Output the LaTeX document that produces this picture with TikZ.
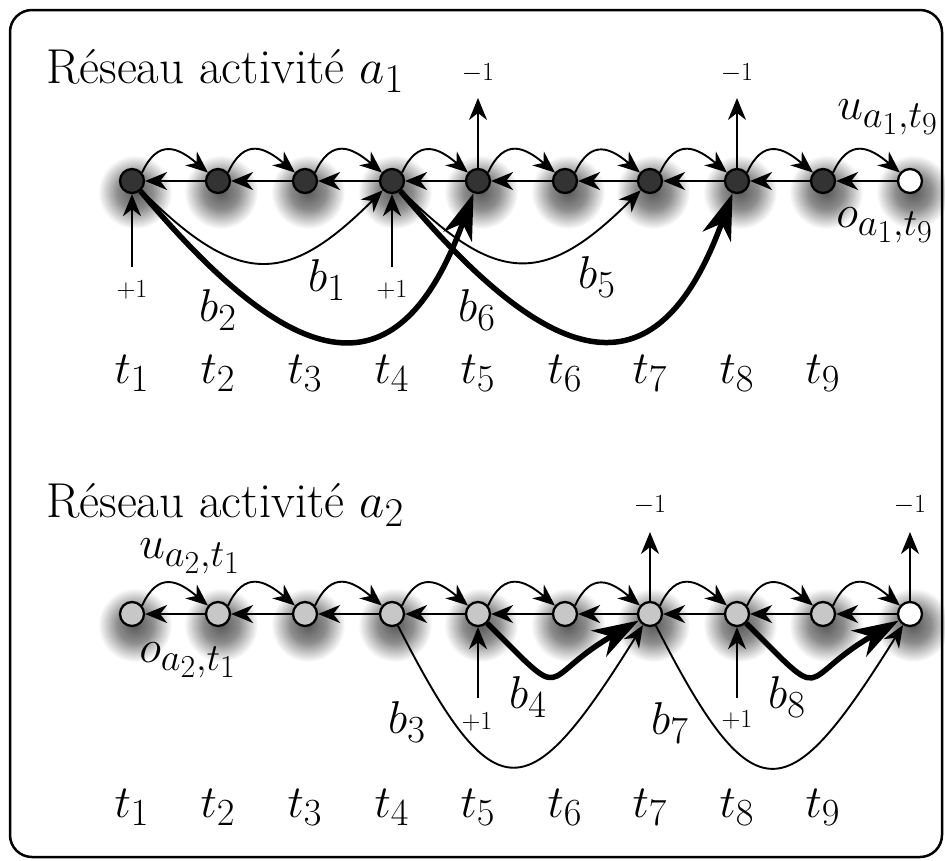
\documentclass[tikz,border=0pt]{standalone}
\usetikzlibrary{arrows.meta}
\newcommand\bigtxt[1]{\scalebox{1.85}{\Huge #1}}
\newcommand\ttltxt[1]{\scalebox{1.97}{\Huge #1}}
\newcommand\unittxt[1]{\scalebox{1.05}{\Huge #1}}
\pgfdeclareradialshading{nshadow}{\pgfpoint{0bp}{0bp}}{color(0bp)=(black!65); color(12bp)=(black!45); color(25bp)=(white); color(50bp)=(white)}
\begin{document}
\begin{tikzpicture}[x=1pt,y=1pt,
  nd/.style={circle,draw,line width=2.3pt,minimum size=24pt,inner sep=0pt},
  darknd/.style={nd,fill=black!80},
  lightnd/.style={nd,fill=black!22},
  endnd/.style={nd,fill=white},
  arr/.style={line width=1.9pt,-{Stealth[length=22pt,width=18pt,inset=7pt]}},
  big/.style={line width=5.5pt,-{Stealth[length=46pt,width=30pt,inset=14pt]}},
  hop/.style={arr,out=65,in=140,looseness=1.5},
  lbl/.style={inner sep=0pt},
  smalllbl/.style={inner sep=0pt},
  ttl/.style={inner sep=0pt,anchor=base west},
  shadow/.style={shading=nshadow}
]
\useasboundingbox (0,0) rectangle (945,-860);
% shadows
\foreach \x in {132,218,305,392,478,565,650,737,823,910}{
  \shade[shadow] (\x+3,-192) circle (37);
  \shade[shadow] (\x+3,-625) circle (37);
}
\draw[line width=2.5pt,rounded corners=22pt] (10,-10) rectangle (942,-857);

% titles
\node[ttl] (title1) at (46,-83) {\ttltxt{Réseau activité $a_1$}};
\node[ttl] (title2) at (46,-517) {\ttltxt{Réseau activité $a_2$}};

% top network nodes
\node[darknd] (a1) at (132,-181) {};
\node[darknd] (a2) at (218,-181) {};
\node[darknd] (a3) at (305,-181) {};
\node[darknd] (a4) at (392,-181) {};
\node[darknd] (a5) at (478,-181) {};
\node[darknd] (a6) at (565,-181) {};
\node[darknd] (a7) at (650,-181) {};
\node[darknd] (a8) at (737,-181) {};
\node[darknd] (a9) at (823,-181) {};
\node[endnd] (a10) at (910,-181) {};

% bottom network nodes
\node[lightnd] (c1) at (132,-614) {};
\node[lightnd] (c2) at (218,-614) {};
\node[lightnd] (c3) at (305,-614) {};
\node[lightnd] (c4) at (392,-614) {};
\node[lightnd] (c5) at (478,-614) {};
\node[lightnd] (c6) at (565,-614) {};
\node[lightnd] (c7) at (650,-614) {};
\node[lightnd] (c8) at (737,-614) {};
\node[lightnd] (c9) at (823,-614) {};
\node[endnd] (c10) at (910,-614) {};

% hops and backward arrows
\foreach \i/\j in {1/2,2/3,3/4,4/5,5/6,6/7,7/8,8/9,9/10}{
  \draw[hop] (a\i.40) to (a\j.140);
  \draw[arr] (a\j) -- (a\i);
  \draw[hop] (c\i.40) to (c\j.140);
  \draw[arr] (c\j) -- (c\i);
}

% top long arcs
\draw[arr] (a1) to[out=-45,in=-135,looseness=1.45] (a4);
\draw[arr] (a4) to[out=-45,in=-135,looseness=1.45] (a7);
\draw[big] (a1) to[out=-50,in=-110,looseness=1.75] (a5);
\draw[big] (a4) to[out=-50,in=-110,looseness=1.75] (a8);

% bottom long arcs
\draw[arr] (c4) to[out=-63,in=-122,looseness=2.25] (c7);
\draw[arr] (c7) to[out=-63,in=-122,looseness=2.25] (c10);
\draw[big] (c5) to[out=-45,in=-150,looseness=2.0] (c7);
\draw[big] (c8) to[out=-45,in=-150,looseness=2.0] (c10);

% vertical arrows top
\coordinate (up5) at (478,-98);
\coordinate (up8) at (737,-98);
\draw[arr] (a5) -- (up5);
\draw[arr] (a8) -- (up8);
\node[smalllbl] (m5) at (478,-73) {\unittxt{$-1$}};
\node[smalllbl] (m8) at (737,-73) {\unittxt{$-1$}};
\coordinate (in1) at (132,-267);
\coordinate (in4) at (392,-267);
\draw[arr] (in1) -- (a1);
\draw[arr] (in4) -- (a4);
\node[smalllbl] (p1) at (132,-290) {\unittxt{$+1$}};
\node[smalllbl] (p4) at (392,-290) {\unittxt{$+1$}};

% vertical arrows bottom
\coordinate (up7) at (650,-532);
\coordinate (up10) at (910,-532);
\draw[arr] (c7) -- (up7);
\draw[arr] (c10) -- (up10);
\node[smalllbl] (m7) at (650,-505) {\unittxt{$-1$}};
\node[smalllbl] (m10) at (910,-505) {\unittxt{$-1$}};
\coordinate (in5) at (478,-698);
\coordinate (in8) at (737,-698);
\draw[arr] (in5) -- (c5);
\draw[arr] (in8) -- (c8);
\node[smalllbl] (p5) at (477,-722) {\unittxt{$+1$}};
\node[smalllbl] (p8) at (737,-720) {\unittxt{$+1$}};

% b labels
\node[lbl] (b1) at (327,-280) {\bigtxt{$b_1$}};
\node[lbl] (b2) at (218,-310) {\bigtxt{$b_2$}};
\node[lbl] (b5) at (597,-277) {\bigtxt{$b_5$}};
\node[lbl] (b6) at (477,-310) {\bigtxt{$b_6$}};
\node[lbl] (b3) at (407,-722) {\bigtxt{$b_3$}};
\node[lbl] (b4) at (528,-697) {\bigtxt{$b_4$}};
\node[lbl] (b7) at (670,-723) {\bigtxt{$b_7$}};
\node[lbl] (b8) at (787,-697) {\bigtxt{$b_8$}};

% u / o labels
\node[lbl] (u1) at (888,-117) {\bigtxt{$u_{a_1,t_9}$}};
\node[lbl] (o1) at (885,-225) {\bigtxt{$o_{a_1,t_9}$}};
\node[lbl] (u2) at (190,-556) {\bigtxt{$u_{a_2,t_1}$}};
\node[lbl] (o2) at (188,-660) {\bigtxt{$o_{a_2,t_1}$}};

% time labels
\foreach \k/\x in {1/132,2/218,3/305,4/392,5/478,6/565,7/650,8/737,9/823}{
  \node[lbl,anchor=base] (ta\k) at (\x,-383) {\bigtxt{$t_{\k}$}};
  \node[lbl,anchor=base] (tb\k) at (\x,-817) {\bigtxt{$t_{\k}$}};
}
\end{tikzpicture}
\end{document}
